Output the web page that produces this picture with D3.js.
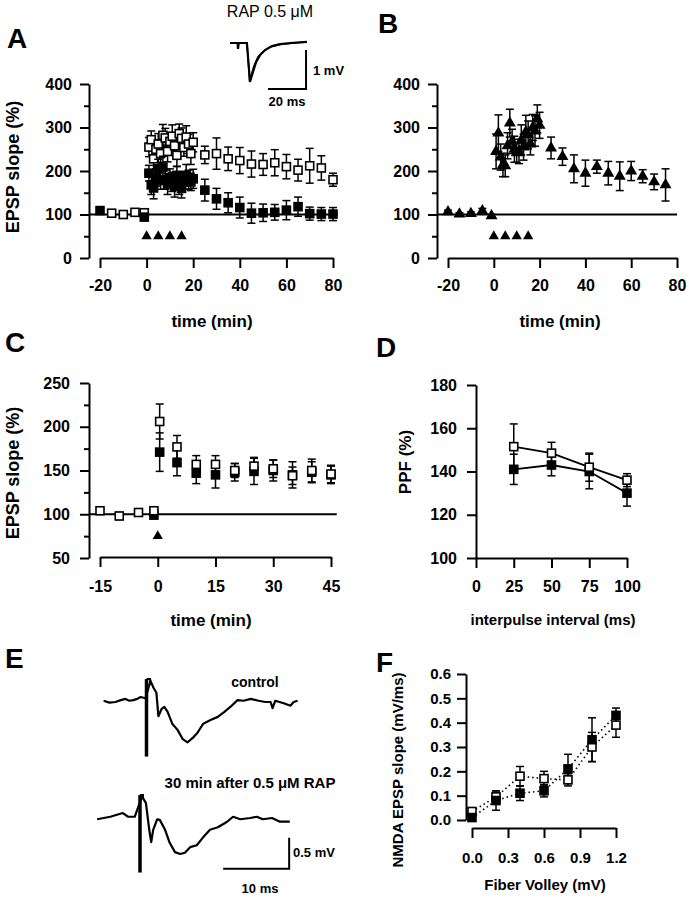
<!DOCTYPE html>
<html><head><meta charset="utf-8">
<script src="https://cdn.jsdelivr.net/npm/d3@7"></script>
<style>
body{margin:0;background:#fff}
text{font-family:"Liberation Sans",Arial,Helvetica,sans-serif;fill:#000}
</style>
</head><body>
<svg id="c" width="689" height="899"></svg>
<script>
// ================= DATA =================
const stimTimesAB = [0, 5, 10, 15];
const stimTimesC = [0];

// Panel A – open squares
const tA_open = [-15,-10,-5,-1, 1,2,3,4,5,6,7,8,9,10,11,12,13,14,15,16,17,18,19,20, 25,30,35,40,45,50,55,60,65,70,75,80];
const vA_open = [103,100,105,104, 255,272,228,250,262,240,282,276,245,268,280,258,236,286,275,254,278,262,240,266, 237,240,228,224,216,215,219,210,202,212,207,180];
const eA_open = [4,4,4,4, 22,20,25,22,24,20,25,22,24,20,26,22,25,22,24,20,26,22,25,22, 20,36,27,30,30,25,30,28,25,40,28,15];
// Panel A – filled squares
const tA_fill = [-20,-1, 1,2,3,4,5,6,7,8,9,10,11,12,13,14,15,16,17,18,19,20, 25,30,35,40,45,50,55,60,65,70,75,80];
const vA_fill = [109,94, 195,168,161,185,205,178,209,180,170,185,175,165,190,170,160,178,190,180,175,182, 156,136,127,116,103,104,105,110,118,102,101,101];
const eA_fill = [3,5, 18,22,25,20,22,20,25,22,24,20,22,25,20,24,22,20,25,22,20,22, 25,24,23,24,23,20,18,22,22,15,15,15];

// Panel B – filled triangles
const tB = [-20,-15,-10,-5,-1, 1,2,3,4,5,6,7,8,9,10,11,12,13,14,15,16,17,18,19,20, 25,30,35,40,45,50,55,60,65,70,75];
const vB = [106,101,102,108,97, 245,287,232,214,212,258,310,268,250,242,245,271,255,290,283,262,300,292,320,305, 253,233,205,195,210,195,188,200,188,175,168];
const eB = [4,3,4,6,3, 40,42,30,27,25,30,32,28,30,22,28,35,30,38,32,25,30,35,32,30, 25,20,32,30,15,27,33,22,15,18,37];

// Panel C
const tC_open = [-15,-10,-5,-1,0.5,5,10,15,20,25,30,35,40,45];
const vC_open = [104,98,102,104,206,177,157,157,150,155,152,144,150,146];
const eC_open = [3,4,3,4,20,13,10,10,8,10,10,10,13,10];
const tC_fill = [-1,0.5,5,10,15,20,25,30,35,40,45];
const vC_fill = [99,171,159,147,145,148,149,150,145,148,145];
const eC_fill = [3,22,15,12,15,10,15,12,15,12,10];

// Panel D – PPF
const ipi = [25,50,75,100];
const ppfOpen = [151.5,148.5,142,136];
const ppfOpenErr = [10.5,5,6.5,3];
const ppfFill = [141,143,140,130];
const ppfFillErr = [7,5,8,6];

// Panel F – NMDA EPSP vs fiber volley
const fv = [0,0.2,0.4,0.6,0.8,1.0,1.2];
const nmdaOpen = [0.035,0.095,0.18,0.17,0.165,0.30,0.39];
const nmdaOpenErr = [0.01,0.02,0.04,0.03,0.025,0.06,0.05];
const nmdaFill = [0.01,0.08,0.11,0.12,0.21,0.33,0.43];
const nmdaFillErr = [0.01,0.04,0.03,0.025,0.06,0.09,0.03];

// Inset traces (ms, mV) – panel A
const insetT1 = [0,4,4.2,4.6,8.9,10.5,12.1,13.7,15.8,18.4,22.1,26.3,31.6,40.5];
const insetV1 = [0,0,-0.15,0,0,-1.0,-0.74,-0.49,-0.31,-0.18,-0.08,-0.03,0,0.03];
const insetT2 = [8.9,10.3,11,12.6,14.7,17.4,21,26.3,34.2,40.5];
const insetV2 = [0,-0.92,-0.85,-0.59,-0.36,-0.23,-0.1,-0.04,0,0.03];

// Panel E traces (ms after stimulus, mV)
const ctrlT = [-6.5,-5.6,-4.7,-3.9,-3.2,-2.6,-2.0,-1.4,-0.9,-0.15,0.6,1.06,1.5,1.8,2.3,2.7,3.2,3.9,4.7,5.5,6.2,7.0,7.7,8.6,9.7,10.8,11.8,12.7,13.8,14.7,15.8,17.0,18.0,18.8,19.1,19.5,20.8,21.8,22.3,22.9];
const ctrlV = [0.02,-0.01,0,0.03,0.05,0.02,0.03,0.05,0.08,0.06,0.34,0.23,0.15,-0.23,-0.11,-0.08,-0.16,-0.35,-0.45,-0.6,-0.65,-0.58,-0.5,-0.35,-0.29,-0.24,-0.16,-0.08,0.03,0.02,0.05,0.02,0,0,-0.1,0.02,-0.02,-0.06,0,0.02];
const rapT = [-6.5,-4.5,-2.6,-1.8,-0.8,0.3,0.9,1.4,1.7,2.0,2.6,3.0,3.8,4.5,5.3,6.1,6.8,7.6,8.6,9.5,10.6,11.8,13.2,14.1,15.2,16.7,17.7,18.6,20.0,21.2,22.7];
const rapV = [-0.02,0.02,0.08,0.02,0.02,0.35,0.24,-0.19,-0.39,-0.19,-0.02,-0.03,-0.19,-0.4,-0.55,-0.58,-0.56,-0.47,-0.44,-0.32,-0.19,-0.15,-0.06,0.02,-0.02,0,0.02,-0.02,0,-0.06,-0.06];
const artifactTop = 0.37, artifactBottom = -0.88;

// ================= DRAWING =================
const svg = d3.select('#c');
const FONT = '"Liberation Sans",Arial,Helvetica,sans-serif';
const SW = 2;

function styleAxis(g, fs) {
  g.attr('font-family', FONT).attr('font-size', fs);
  g.selectAll('path,line').attr('stroke', '#000').attr('stroke-width', SW);
  g.selectAll('text').attr('font-weight', 'bold').attr('font-size', fs).attr('fill', '#000');
}
function yAxis(y, x0, major, minor, fs, fmt, pad) {
  const g = svg.append('g').attr('transform', `translate(${x0},0)`)
    .call(d3.axisLeft(y).tickValues(major).tickSize(9).tickSizeOuter(0).tickPadding(pad).tickFormat(fmt));
  styleAxis(g, fs);
  if (minor) {
    const m = svg.append('g').attr('transform', `translate(${x0},0)`)
      .call(d3.axisLeft(y).tickValues(minor).tickSize(5).tickFormat(''));
    m.select('.domain').remove();
    styleAxis(m, fs);
  }
}
function xAxis(x, y0, ticks, fs, fmt, pad) {
  const g = svg.append('g').attr('transform', `translate(0,${y0})`)
    .call(d3.axisBottom(x).tickValues(ticks).tickSize(10).tickSizeOuter(0).tickPadding(pad).tickFormat(fmt));
  styleAxis(g, fs);
}
function txt(x, y, s, fs, opts = {}) {
  const t = svg.append('text').attr('x', x).attr('y', y).text(s)
    .attr('font-size', fs).attr('font-weight', opts.weight || 'bold')
    .attr('text-anchor', opts.anchor || 'start');
  if (opts.rot) t.attr('transform', `rotate(-90,${x},${y})`);
  return t;
}
function errBars(g, xs, ys, es, x, y, cap) {
  const d = xs.map((t, i) => ({ t, v: ys[i], e: es[i] }));
  const gg = g.append('g').attr('stroke', '#000').attr('stroke-width', 1.5);
  gg.selectAll('.v').data(d).join('line')
    .attr('x1', p => x(p.t)).attr('x2', p => x(p.t))
    .attr('y1', p => y(p.v - p.e)).attr('y2', p => y(p.v + p.e));
  gg.selectAll('.t').data(d).join('line')
    .attr('x1', p => x(p.t) - cap).attr('x2', p => x(p.t) + cap)
    .attr('y1', p => y(p.v + p.e)).attr('y2', p => y(p.v + p.e));
  gg.selectAll('.b').data(d).join('line')
    .attr('x1', p => x(p.t) - cap).attr('x2', p => x(p.t) + cap)
    .attr('y1', p => y(p.v - p.e)).attr('y2', p => y(p.v - p.e));
}
function squares(g, xs, ys, x, y, filled, s) {
  g.append('g').selectAll('rect').data(xs.map((t, i) => [t, ys[i]])).join('rect')
    .attr('x', d => x(d[0]) - s / 2).attr('y', d => y(d[1]) - s / 2)
    .attr('width', s).attr('height', s)
    .attr('fill', filled ? '#000' : '#fff').attr('stroke', '#000').attr('stroke-width', 1.6);
}
function triangles(g, xs, ys, x, y, size) {
  g.append('g').selectAll('path').data(xs.map((t, i) => [t, ys[i]])).join('path')
    .attr('d', d3.symbol(d3.symbolTriangle, size))
    .attr('transform', d => `translate(${x(d[0])},${y(d[1])})`)
    .attr('fill', '#000');
}

// ---------- Panel A ----------
{
  const x = d3.scaleLinear().domain([-20, 80]).range([100, 333]);
  const y = d3.scaleLinear().domain([0, 400]).range([258, 84]);
  const g = svg.append('g');
  yAxis(y, 89, [0,100,200,300,400], [50,150,250,350], 16, d => d, 8);
  xAxis(x, 258, [-20,0,20,40,60,80], 16, d => String(d), 12);
  g.append('line').attr('x1', 89).attr('x2', x(82)).attr('y1', y(100)).attr('y2', y(100))
    .attr('stroke', '#000').attr('stroke-width', 2);
  errBars(g, tA_open, vA_open, eA_open, x, y, 4);
  squares(g, tA_open, vA_open, x, y, false, 8);
  errBars(g, tA_fill, vA_fill, eA_fill, x, y, 4);
  squares(g, tA_fill, vA_fill, x, y, true, 8);
  triangles(g, stimTimesAB, stimTimesAB.map(() => 50), x, y, 46);
  txt(19, 167, 'EPSP slope (%)', 18, { anchor: 'middle', rot: true });
  txt(212, 327, 'time (min)', 17, { anchor: 'middle' });
  txt(7, 48, 'A', 28);
  // inset
  const ti = d3.scaleLinear().domain([0, 40.5]).range([230, 307]);
  const vi = d3.scaleLinear().domain([0, -1]).range([43, 82]);
  const line = d3.line().x(d => ti(d[0])).y(d => vi(d[1]));
  g.append('path').attr('d', line(insetT1.map((t, i) => [t, insetV1[i]])))
    .attr('fill', 'none').attr('stroke', '#000').attr('stroke-width', 2.2);
  g.append('path').attr('d', line(insetT2.map((t, i) => [t, insetV2[i]])))
    .attr('fill', 'none').attr('stroke', '#000').attr('stroke-width', 1.6);
  g.append('path').attr('d', line([[40, -0.18], [40, -1.18], [20, -1.18]]))
    .attr('fill', 'none').attr('stroke', '#000').attr('stroke-width', 2);
  txt(270, 17, 'RAP 0.5 μM', 16, { anchor: 'middle', weight: 'normal' });
  txt(313, 75, '1 mV', 13);
  txt(287, 106, '20 ms', 13, { anchor: 'middle' });
}

// ---------- Panel B ----------
{
  const x = d3.scaleLinear().domain([-20, 80]).range([448, 677]);
  const y = d3.scaleLinear().domain([0, 400]).range([258, 84]);
  const g = svg.append('g');
  yAxis(y, 437, [0,100,200,300,400], [50,150,250,350], 16, d => d, 8);
  xAxis(x, 258, [-20,0,20,40,60,80], 16, d => String(d), 12);
  g.append('line').attr('x1', 437).attr('x2', x(80)).attr('y1', y(100)).attr('y2', y(100))
    .attr('stroke', '#000').attr('stroke-width', 2);
  errBars(g, tB, vB, eB, x, y, 4);
  triangles(g, tB, vB, x, y, 62);
  triangles(g, stimTimesAB, stimTimesAB.map(() => 50), x, y, 46);
  txt(560, 327, 'time (min)', 17, { anchor: 'middle' });
  txt(378, 33, 'B', 28);
}

// ---------- Panel C ----------
{
  const x = d3.scaleLinear().domain([-15, 45]).range([100, 331]);
  const y = d3.scaleLinear().domain([50, 250]).range([558, 383]);
  const g = svg.append('g');
  yAxis(y, 89, [50,100,150,200,250], [75,125,175,225], 16, d => d, 10);
  xAxis(x, 557, [-15,0,15,30,45], 16, d => String(d), 14);
  g.append('line').attr('x1', 89).attr('x2', x(46.5)).attr('y1', y(100)).attr('y2', y(100))
    .attr('stroke', '#000').attr('stroke-width', 2);
  errBars(g, tC_fill, vC_fill, eC_fill, x, y, 4);
  errBars(g, tC_open, vC_open, eC_open, x, y, 4);
  squares(g, tC_fill, vC_fill, x, y, true, 8);
  squares(g, tC_open, vC_open, x, y, false, 8);
  triangles(g, stimTimesC, stimTimesC.map(() => 75), x, y, 46);
  txt(19, 473, 'EPSP slope (%)', 18, { anchor: 'middle', rot: true });
  txt(211, 626, 'time (min)', 17, { anchor: 'middle' });
  txt(5, 352, 'C', 28);
}

// ---------- Panel D ----------
{
  const x = d3.scaleLinear().domain([0, 100]).range([476, 627]);
  const y = d3.scaleLinear().domain([100, 180]).range([558, 385]);
  const g = svg.append('g');
  yAxis(y, 476, [100,120,140,160,180], null, 16, d => d, 10);
  xAxis(x, 558, [0,25,50,75,100], 16, d => String(d), 13);
  const line = d3.line().x(d => x(d[0])).y(d => y(d[1]));
  g.append('path').attr('d', line(ipi.map((t, i) => [t, ppfFill[i]])))
    .attr('fill', 'none').attr('stroke', '#000').attr('stroke-width', 1.8);
  g.append('path').attr('d', line(ipi.map((t, i) => [t, ppfOpen[i]])))
    .attr('fill', 'none').attr('stroke', '#000').attr('stroke-width', 1.8);
  errBars(g, ipi, ppfFill, ppfFillErr, x, y, 4);
  errBars(g, ipi, ppfOpen, ppfOpenErr, x, y, 4);
  squares(g, ipi, ppfFill, x, y, true, 8);
  squares(g, ipi, ppfOpen, x, y, false, 8);
  txt(411, 462, 'PPF (%)', 17, { anchor: 'middle', rot: true });
  txt(553, 625, 'interpulse interval (ms)', 15, { anchor: 'middle' });
  txt(376, 357, 'D', 28);
}

// ---------- Panel E ----------
{
  const g = svg.append('g');
  const tc = d3.scaleLinear().domain([0, 10]).range([146.5, 212.5]);
  const vc = d3.scaleLinear().domain([0, -0.5]).range([702, 733]);
  const tr = d3.scaleLinear().domain([0, 10]).range([140, 206]);
  const vr = d3.scaleLinear().domain([0, -0.5]).range([818, 849]);
  const lc = d3.line().x(d => tc(d[0])).y(d => vc(d[1]));
  const lr = d3.line().x(d => tr(d[0])).y(d => vr(d[1]));
  g.append('path').attr('d', lc(ctrlT.map((t, i) => [t, ctrlV[i]])))
    .attr('fill', 'none').attr('stroke', '#000').attr('stroke-width', 2.2).attr('stroke-linejoin', 'round');
  g.append('path').attr('d', lr(rapT.map((t, i) => [t, rapV[i]])))
    .attr('fill', 'none').attr('stroke', '#000').attr('stroke-width', 2.2).attr('stroke-linejoin', 'round');
  // stimulus artifacts
  g.append('path').attr('d', lc([[0, artifactTop], [0, artifactBottom]]))
    .attr('stroke', '#000').attr('stroke-width', 3.5);
  g.append('path').attr('d', lc([[0, artifactTop], [0.55, artifactTop], [0.55, 0.3]]))
    .attr('fill', 'none').attr('stroke', '#000').attr('stroke-width', 2);
  g.append('path').attr('d', lr([[0, artifactTop], [0, artifactBottom]]))
    .attr('stroke', '#000').attr('stroke-width', 3.5);
  g.append('path').attr('d', lr([[0, artifactTop], [0.45, artifactTop], [0.45, 0.3]]))
    .attr('fill', 'none').attr('stroke', '#000').attr('stroke-width', 2);
  // scale bar (10 ms, 0.5 mV)
  g.append('path').attr('d', lr([[12.6, -0.82], [22.6, -0.82], [22.6, -0.32]]))
    .attr('fill', 'none').attr('stroke', '#000').attr('stroke-width', 2);
  txt(255, 687, 'control', 14, { anchor: 'middle' });
  txt(250, 788, '30 min after 0.5 μM RAP', 15, { anchor: 'middle' });
  txt(293, 857, '0.5 mV', 13);
  txt(260, 893, '10 ms', 13, { anchor: 'middle' });
  txt(5, 668, 'E', 28);
}

// ---------- Panel F ----------
{
  const x = d3.scaleLinear().domain([0, 1.2]).range([472, 616]);
  const y = d3.scaleLinear().domain([0, 0.6]).range([820, 674]);
  const g = svg.append('g');
  yAxis(y, 466, [0,0.1,0.2,0.3,0.4,0.5,0.6], null, 15, d3.format('.1f'), 6);
  xAxis(x, 828, [0,0.3,0.6,0.9,1.2], 15, d3.format('.1f'), 14);
  const line = d3.line().x(d => x(d[0])).y(d => y(d[1]));
  g.append('path').attr('d', line(fv.map((t, i) => [t, nmdaOpen[i]])))
    .attr('fill', 'none').attr('stroke', '#000').attr('stroke-width', 1.6).attr('stroke-dasharray', '1.5,3');
  g.append('path').attr('d', line(fv.map((t, i) => [t, nmdaFill[i]])))
    .attr('fill', 'none').attr('stroke', '#000').attr('stroke-width', 1.6).attr('stroke-dasharray', '1.5,3');
  errBars(g, fv, nmdaFill, nmdaFillErr, x, y, 4);
  errBars(g, fv, nmdaOpen, nmdaOpenErr, x, y, 4);
  squares(g, fv, nmdaOpen, x, y, false, 8);
  squares(g, fv, nmdaFill, x, y, true, 8);
  txt(403, 770, 'NMDA EPSP slope (mV/ms)', 15, { anchor: 'middle', rot: true });
  txt(545, 890, 'Fiber Volley (mV)', 15, { anchor: 'middle' });
  txt(376, 672, 'F', 28);
}
</script>
</body></html>
